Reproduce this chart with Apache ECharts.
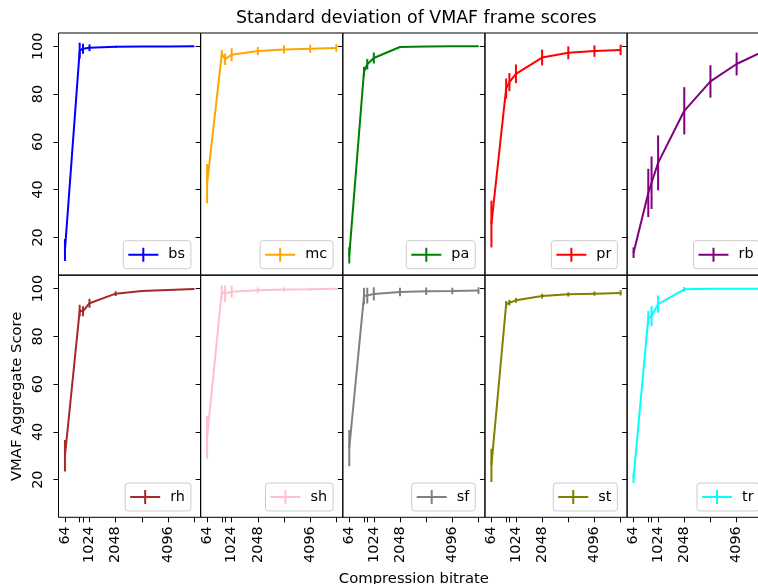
<!DOCTYPE html>
<html><head><meta charset="utf-8">
<script src="https://cdn.jsdelivr.net/npm/echarts@6/dist/echarts.min.js"></script>
<style>html,body{margin:0;padding:0;background:#fff}#c{width:758px;height:584px}</style>
</head><body><div id="c"></div>
<script>
// ---- data ----
const bitrates = [64, 640, 768, 1024, 2048, 3072, 4096, 5120];
const xTickLabels = [64, 1024, 2048, 4096];
const yTickValues = [20, 40, 60, 80, 100];
const seriesNames = ['bs', 'mc', 'pa', 'pr', 'rb', 'rh', 'sh', 'sf', 'st', 'tr'];
const seriesColors = ['#0000ff', '#ffa500', '#008000', '#ff0000', '#800080', '#a52a2a', '#ffc0cb', '#808080', '#808000', '#00ffff'];

const bsMean = [14.7, 98.2, 99.0, 99.4, 99.8, 99.9, 99.9, 100.0];
const bsStd  = [4.6, 3.3, 2.1, 1.4, 0.4, 0.2, 0.2, 0.1];
const mcMean = [42.5, 96.9, 94.6, 96.5, 98.0, 98.7, 99.0, 99.3];
const mcStd  = [8.2, 1.5, 2.4, 2.7, 1.7, 1.7, 1.7, 1.6];
const paMean = [12.5, 89.4, 92.5, 95.1, 99.7, 99.9, 100.0, 100.0];
const paStd  = [3.4, 2.0, 2.2, 2.3, 0.4, 0.2, 0.1, 0.1];
const prMean = [25.6, 82.3, 85.0, 88.5, 95.3, 97.3, 98.0, 98.5];
const prStd  = [9.8, 4.2, 3.8, 3.9, 3.3, 2.7, 2.4, 2.2];
const rbMean = [13.6, 38.6, 42.9, 51.2, 73.0, 85.3, 92.6, 97.8];
const rbStd  = [2.2, 10.1, 11.0, 11.5, 9.9, 6.8, 4.8, 3.5];
const rhMean = [30.0, 90.8, 90.5, 93.9, 97.9, 99.0, 99.4, 99.8];
const rhStd  = [6.6, 2.5, 2.1, 1.9, 1.0, 0.4, 0.3, 0.2];
const shMean = [37.7, 98.8, 97.9, 98.7, 99.3, 99.6, 99.7, 99.9];
const shStd  = [8.9, 2.6, 3.5, 2.5, 1.2, 0.9, 0.7, 0.5];
const sfMean = [33.2, 96.9, 97.1, 97.8, 98.6, 98.9, 99.0, 99.2];
const sfStd  = [7.6, 3.5, 3.3, 2.8, 1.8, 1.6, 1.4, 1.4];
const stMean = [26.0, 93.4, 94.1, 95.1, 96.9, 97.6, 97.9, 98.2];
const stStd  = [7.0, 1.4, 1.2, 1.0, 1.0, 0.9, 0.9, 1.1];
const trMean = [20.7, 87.8, 88.5, 93.5, 99.7, 99.9, 100.0, 100.0];
const trStd  = [2.1, 2.8, 4.2, 3.6, 1.0, 0.3, 0.1, 0.1];

const allMeans = [bsMean, mcMean, paMean, prMean, rbMean, rhMean, shMean, sfMean, stMean, trMean];
const allStds  = [bsStd, mcStd, paStd, prStd, rbStd, rhStd, shStd, sfStd, stStd, trStd];

// ---- layout ----
const W = 758, H = 584;
const COL_LEFT0 = 58.5, COL_W = 142.15;
const ROW_TOP = [33, 275.3], ROW_H = 242;
const X_MIN = -188.8, X_MAX = 5372.8;
const Y_MIN = 4.25, Y_MAX = 105.58;
const FONT = 'DejaVu Sans';
const FS = 14.4;
const LW = 2;
const ICON = 'path://M0,6h30v2h-30z M14,0h2v14h-2z';

const measureCtx = document.createElement('canvas').getContext('2d');
measureCtx.font = FS + 'px "DejaVu Sans"';

const grids = [], xAxes = [], yAxes = [], series = [], legends = [];
for (let i = 0; i < 10; i++) {
  const r = Math.floor(i / 5), c = i % 5;
  const left = COL_LEFT0 + c * COL_W, top = ROW_TOP[r];
  const color = seriesColors[i], name = seriesNames[i];
  grids.push({left: left, top: top, width: COL_W, height: ROW_H, show: true,
    borderColor: '#000', borderWidth: 1, backgroundColor: 'transparent',
    containLabel: false, outerBoundsMode: 'none'});
  xAxes.push({
    gridIndex: i, type: 'value', min: X_MIN, max: X_MAX,
    axisLine: {show: false, onZero: false},
    splitLine: {show: false},
    axisTick: {show: r === 1, customValues: bitrates, length: 5, lineStyle: {color: '#000', width: 1}},
    axisLabel: {show: r === 1, customValues: xTickLabels, rotate: 90, margin: 9,
      formatter: v => String(v),
      fontSize: FS, color: '#000', fontFamily: FONT},
    name: i === 7 ? 'Compression bitrate' : '',
    nameLocation: 'middle', nameGap: 54,
    nameTextStyle: {fontSize: 14.8, color: '#000', fontFamily: FONT}
  });
  yAxes.push({
    gridIndex: i, type: 'value', min: Y_MIN, max: Y_MAX,
    axisLine: {show: false, onZero: false},
    splitLine: {show: false},
    axisTick: {show: true, customValues: yTickValues, length: 5, lineStyle: {color: '#000', width: 1}},
    axisLabel: {show: c === 0, customValues: yTickValues, rotate: 90, margin: 13.5,
      formatter: v => String(v),
      fontSize: FS, color: '#000', fontFamily: FONT},
    name: i === 5 ? 'VMAF Aggregate Score' : '',
    nameLocation: 'middle', nameGap: 34, nameRotate: 90,
    nameTextStyle: {fontSize: 14.8, color: '#000', fontFamily: FONT}
  });
  const mean = allMeans[i], std = allStds[i];
  series.push({
    type: 'line', name: name, xAxisIndex: i, yAxisIndex: i,
    data: bitrates.map((x, k) => [x, mean[k]]),
    symbol: 'none', lineStyle: {color: color, width: LW}, itemStyle: {color: color},
    z: 3
  });
  series.push({
    type: 'custom', name: name + '_err', xAxisIndex: i, yAxisIndex: i,
    data: bitrates.map((x, k) => [x, mean[k], std[k]]),
    silent: true, clip: true, z: 3,
    renderItem: (params, api) => {
      const x = api.value(0), m = api.value(1), s = api.value(2);
      const p1 = api.coord([x, m - s]), p2 = api.coord([x, m + s]);
      return {type: 'line', shape: {x1: p1[0], y1: p1[1], x2: p2[0], y2: p2[1]},
        style: {stroke: color, lineWidth: LW}};
    }
  });
  const gridRight = left + COL_W, gridBottom = top + ROW_H;
  const tw = measureCtx.measureText(name).width;
  const boxW = 5 + 30 + 5 + 5 + tw + 6 + 2;
  legends.push({
    data: [{name: name, icon: ICON}],
    left: gridRight - 7.7 - boxW, bottom: H - (gridBottom - 6.3),
    orient: 'horizontal', itemWidth: 30, itemHeight: 14, itemGap: 0,
    padding: [7, 6, 7, 5], borderColor: '#cccccc', borderWidth: 1, borderRadius: 3,
    backgroundColor: 'rgba(255,255,255,0.8)', selectedMode: false,
    textStyle: {fontSize: FS, color: '#000', fontFamily: FONT, padding: [0, 0, 0, 5]}
  });
}

const chart = echarts.init(document.getElementById('c'), null, {renderer: 'canvas'});
chart.setOption({
  animation: false,
  backgroundColor: '#fff',
  title: {text: 'Standard deviation of VMAF frame scores', left: 231, top: 5,
    textStyle: {fontSize: 17.4, fontWeight: 'normal', color: '#000', fontFamily: FONT}},
  grid: grids, xAxis: xAxes, yAxis: yAxes, legend: legends, series: series
});
</script></body></html>
